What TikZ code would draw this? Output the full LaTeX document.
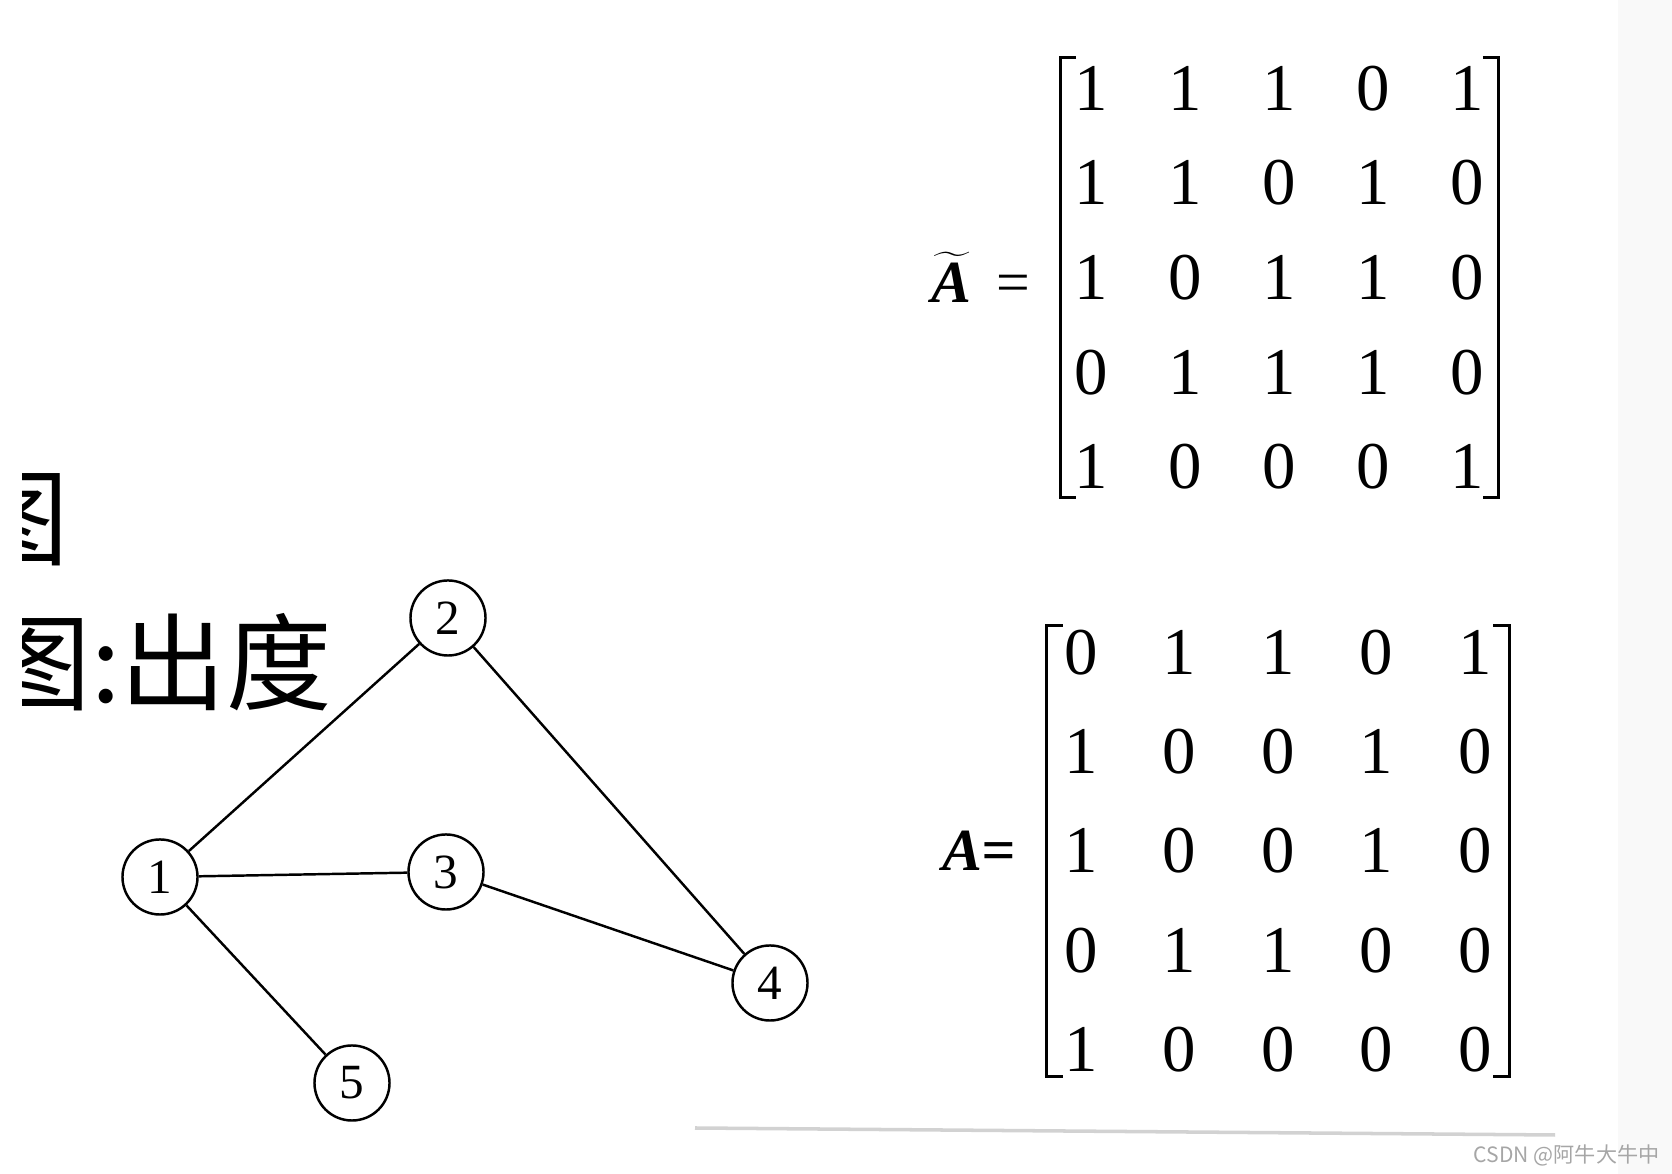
\documentclass[tikz,border=0pt]{standalone}
\usepackage{fontspec}
\setmainfont{Liberation Serif}
\newfontfamily\cjk{Noto Sans CJK SC}
\usetikzlibrary{matrix, positioning}

\begin{document}
\begin{tikzpicture}[
  x=0.01cm, y=-0.01cm,
  every node/.style={font=\fontsize{14}{14}\selectfont},
  vertex/.style={circle, draw, line width=0.7pt, minimum size=0.75cm, inner sep=0pt},
  link/.style={line width=0.7pt},
  mat/.style={matrix of nodes, inner sep=0pt,
    nodes={inner sep=0pt, font=\fontsize{19}{19}\selectfont}},
  brk/.style={line width=0.9pt},
  eqs/.style={font=\fontsize{17}{17}\selectfont, inner sep=0pt},
  hand/.style={font=\cjk\fontsize{30}{30}\selectfont, inner sep=0pt, anchor=west},
  wm/.style={font=\cjk\fontsize{6}{6}\selectfont, text=gray!70, inner sep=0pt}
]
\useasboundingbox (0,0) rectangle (1672,1174);

% scan strip and smudge
\fill[gray!5] (1618,0) rectangle (1672,1174);
\draw[gray!35, line width=1pt] (695,1128) -- (1555,1135);

% handwriting, cut at the page edge
\begin{scope}
  \clip (22,0) rectangle (1672,1174);
  \node[hand] (hw1) at (-37,520) {图};
  \node[hand] (hw2) at (-15,662) {图:出度};
\end{scope}

% graph
\node[vertex] (n1) at (160,877) {1};
\node[vertex] (n2) at (448,618) {2};
\node[vertex] (n3) at (446,872) {3};
\node[vertex] (n4) at (770,983) {4};
\node[vertex] (n5) at (352,1083) {5};

\draw[link] (n1) -- (n2);
\draw[link] (n1) -- (n3);
\draw[link] (n1) -- (n5);
\draw[link] (n2) -- (n4);
\draw[link] (n3) -- (n4);

% matrix with loops
\matrix[mat, column sep=0.33cm, row sep=0.355cm,
  nodes={minimum width=0.61cm, minimum height=0.59cm}] (At) at (1279.5,277.5) {
  1 & 1 & 1 & 0 & 1 \\
  1 & 1 & 0 & 1 & 0 \\
  1 & 0 & 1 & 1 & 0 \\
  0 & 1 & 1 & 1 & 0 \\
  1 & 0 & 0 & 0 & 1 \\
};
\draw[brk] ([xshift=0.16cm]At.north west) -- (At.north west) -- (At.south west) -- ([xshift=0.16cm]At.south west);
\draw[brk] ([xshift=-0.16cm]At.north east) -- (At.north east) -- (At.south east) -- ([xshift=-0.16cm]At.south east);
\node[eqs, left=0.29cm of At] (Atl) {$\widetilde{\mbox{\bfseries\itshape A}}$\hspace{0.25cm}=};

% adjacency matrix
\matrix[mat, column sep=0.315cm, row sep=0.47cm,
  nodes={minimum width=0.67cm, minimum height=0.52cm}] (Am) at (1278,851) {
  0 & 1 & 1 & 0 & 1 \\
  1 & 0 & 0 & 1 & 0 \\
  1 & 0 & 0 & 1 & 0 \\
  0 & 1 & 1 & 0 & 0 \\
  1 & 0 & 0 & 0 & 0 \\
};
\draw[brk] ([xshift=0.16cm]Am.north west) -- (Am.north west) -- (Am.south west) -- ([xshift=0.16cm]Am.south west);
\draw[brk] ([xshift=-0.16cm]Am.north east) -- (Am.north east) -- (Am.south east) -- ([xshift=-0.16cm]Am.south east);
\node[eqs, left=0.3cm of Am] (Aml) {\bfseries\itshape A=};

\node[wm, anchor=east] (wmark) at (1660,1155) {CSDN @阿牛大牛中};

\end{tikzpicture}
\end{document}
